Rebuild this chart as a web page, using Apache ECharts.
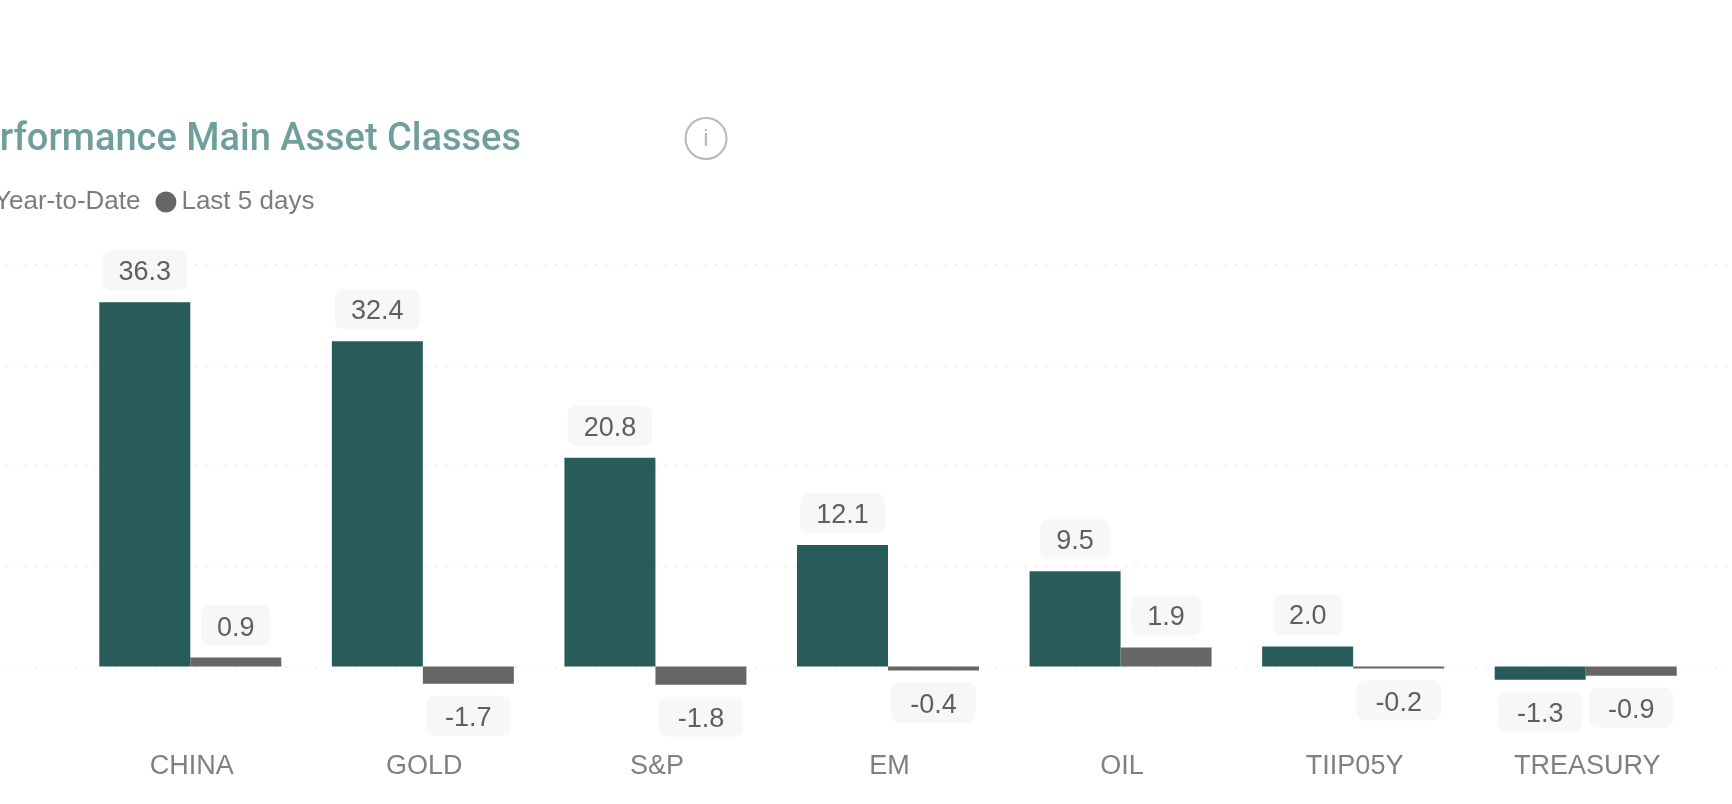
<!DOCTYPE html>
<html>
<head>
<meta charset="utf-8">
<style>html,body{margin:0;background:#fff;overflow:hidden}#main{width:1732px;height:804px}</style>
<script src="https://cdn.jsdelivr.net/npm/echarts@6/dist/echarts.min.js"></script>
</head>
<body>
<div id="main"></div>
<script>
const categories = ["CHINA","GOLD","S&P","EM","OIL","TIIP05Y","TREASURY"];
const ytd = [36.3,32.4,20.8,12.1,9.5,2.0,-1.3];
const last5 = [0.9,-1.7,-1.8,-0.4,1.9,-0.2,-0.9];
const FONT = "'Liberation Sans',sans-serif";

const chart = echarts.init(document.getElementById("main"));
// negative bars get the label underneath, and a slightly wider box
const toItems = arr => arr.map(v => ({ value:v, label: v<0
  ? { position:"bottom", padding:[8,19,3,19] }
  : { position:"top", padding:[8,16,3,16] } }));
const barLabel = {
  show:true, distance:12, color:"#5f5f5f", fontFamily:FONT, fontSize:27,
  backgroundColor:"#f6f8f7", borderRadius:8, lineHeight:29,
  formatter:p => p.value.toFixed(1)
};
const yBase = { type:"value", min:-10, max:40, interval:10, axisLine:{show:false}, axisTick:{show:false}, axisLabel:{show:false} };

chart.setOption({
  animation:false,
  backgroundColor:"#fff",
  title:{ text:"Performance Main Asset Classes", right:1206, top:116,
    textStyle:{ color:"#6f9f9c", fontFamily:"Roboto", fontSize:38, fontWeight:500 } },
  legend:{ left:-37, top:184, orient:"horizontal", icon:"circle", itemWidth:21, itemHeight:21, itemGap:15,
    textStyle:{ color:"#7c7c7c", fontFamily:FONT, fontSize:26 },
    data:["Year-to-Date","Last 5 days"] },
  // gridlines run the whole width, the bars sit in their own narrower grid
  grid:[
    { left:5, right:0, top:265, height:502 },
    { left:74, right:30, top:265, height:502 }
  ],
  xAxis:[
    { gridIndex:0, type:"value", min:0, max:1, show:false },
    { gridIndex:1, type:"category", data:categories, axisLine:{show:false,onZero:false}, axisTick:{show:false},
      axisLabel:{ color:"#808080", fontFamily:FONT, fontSize:27, margin:0, verticalAlign:"middle", interval:0, padding:[0,0,0,3] } }
  ],
  yAxis:[
    Object.assign({ gridIndex:0, splitLine:{ show:true, showMinLine:false, lineStyle:{ color:"#efefef", type:[2,8], width:2 } } }, yBase),
    Object.assign({ gridIndex:1, splitLine:{ show:false } }, yBase)
  ],
  series:[
    { name:"Year-to-Date", type:"bar", xAxisIndex:1, yAxisIndex:1, barWidth:91, barGap:0,
      itemStyle:{ color:"#285c5a" }, label:barLabel, data:toItems(ytd) },
    { name:"Last 5 days", type:"bar", xAxisIndex:1, yAxisIndex:1, barWidth:91, barGap:0,
      itemStyle:{ color:"#666666" }, label:barLabel, data:toItems(last5) }
  ],
  graphic:[
    { type:"circle", shape:{ cx:706, cy:138.5, r:20.5 }, style:{ fill:"none", stroke:"#b8b8b8", lineWidth:2 } },
    { type:"text", x:706, y:139, style:{ text:"i", fill:"#b8b8b8", font:"24px "+FONT, textAlign:"center", textVerticalAlign:"middle" } }
  ]
});
window.addEventListener("resize", ()=>chart.resize());
</script>
</body>
</html>
